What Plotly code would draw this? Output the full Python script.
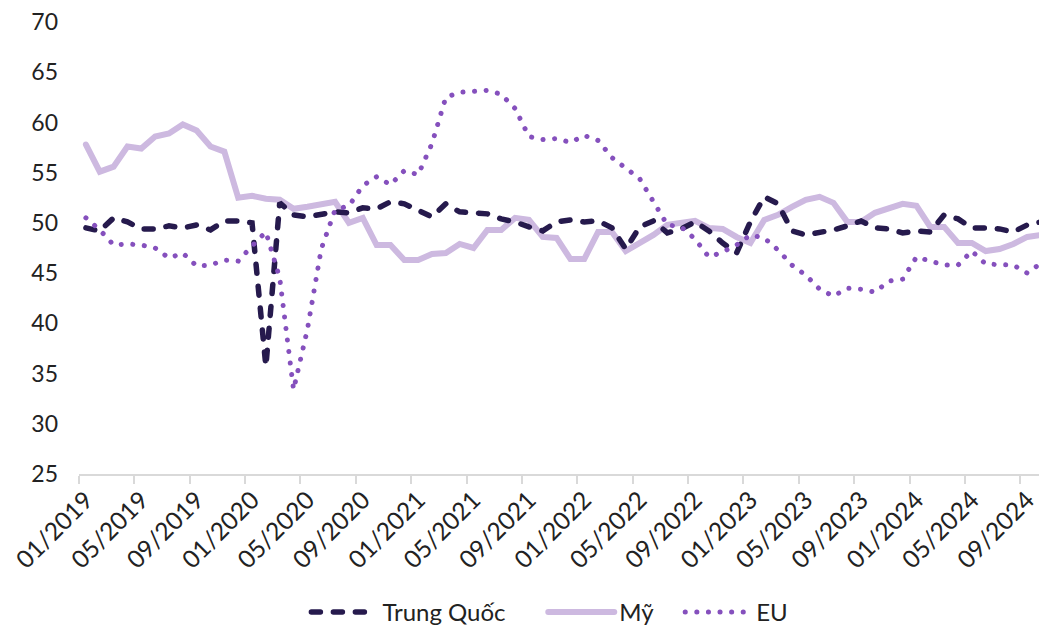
import plotly.graph_objects as go

months = [f"{m:02d}/{y}" for y in range(2019, 2025) for m in range(1, 13)][:70]

china = [49.5, 49.2, 50.5, 50.1, 49.4, 49.4, 49.7, 49.5, 49.8, 49.3, 50.2, 50.2,
         50.0, 35.7, 52.0, 50.8, 50.6, 50.9, 51.1, 51.0, 51.5, 51.4, 52.1, 51.9,
         51.3, 50.6, 51.9, 51.1, 51.0, 50.9, 50.4, 50.1, 49.6, 49.2, 50.1, 50.3,
         50.1, 50.2, 49.5, 47.4, 49.6, 50.2, 49.0, 49.4, 50.1, 49.2, 48.0, 47.0,
         50.1, 52.6, 51.9, 49.2, 48.8, 49.0, 49.3, 49.7, 50.2, 49.5, 49.4, 49.0,
         49.2, 49.1, 50.8, 50.4, 49.5, 49.5, 49.4, 49.1, 49.8, 50.1]

us = [57.8, 55.1, 55.6, 57.6, 57.4, 58.6, 58.9, 59.8, 59.2, 57.6, 57.1, 52.5,
      52.7, 52.4, 52.3, 51.4, 51.6, 51.9, 52.1, 50.0, 50.5, 47.8, 47.8, 46.3,
      46.3, 46.9, 47.0, 47.9, 47.5, 49.3, 49.3, 50.5, 50.3, 48.6, 48.5, 46.4,
      46.4, 49.1, 49.1, 47.2, 48.0, 48.8, 49.8, 50.0, 50.2, 49.5, 49.4, 48.6,
      48.0, 50.3, 50.8, 51.6, 52.3, 52.6, 52.0, 50.1, 50.1, 51.0, 51.5, 51.9,
      51.7, 49.6, 49.6, 48.0, 48.0, 47.2, 47.4, 47.9, 48.6, 48.8]

eu = [50.5, 49.3, 47.8, 47.9, 47.8, 47.5, 46.5, 47.0, 45.7, 45.8, 46.3, 46.2,
      47.7, 49.1, 44.5, 33.4, 39.4, 47.4, 51.3, 51.7, 53.7, 54.6, 53.8, 55.2,
      54.8, 57.9, 62.5, 63.0, 63.1, 63.2, 62.8, 61.4, 58.6, 58.3, 58.4, 58.0,
      58.7, 58.2, 56.5, 55.5, 54.4, 52.1, 49.8, 49.6, 48.4, 46.6, 47.1, 47.8,
      48.8, 48.5, 47.3, 45.8, 44.8, 43.4, 42.7, 43.5, 43.4, 43.1, 44.2, 44.4,
      46.6, 46.2, 45.8, 45.8, 47.2, 45.9, 45.8, 45.8, 45.0, 46.0]

names = ["Trung Quốc", "Mỹ", "EU"]
y_ticks = list(range(25, 75, 5))

x = list(range(len(months)))
label_idx = list(range(0, len(months), 4))

fig = go.Figure()
fig.add_trace(go.Scatter(x=x, y=us, name=names[1], mode="lines", legend="legend2",
                         line=dict(color="#cdb9e0", width=6)))
fig.add_trace(go.Scatter(x=x, y=china, name=names[0], mode="lines", legend="legend",
                         line=dict(color="#261a4d", width=5.5, dash="9px,13px")))
fig.add_trace(go.Scatter(x=x, y=eu, name=names[2], mode="lines", legend="legend3",
                         line=dict(color="#8550bd", width=5, dash="0.1px,11.5px")))

font = "Lato, 'Noto Sans', sans-serif"
L, PW = 78.5, 960.5
leg_common = dict(orientation="h", xref="paper", xanchor="left", yanchor="bottom",
                  y=-0.338, font=dict(size=24, color="#222222"), itemwidth=66,
                  bgcolor="rgba(0,0,0,0)")
fig.update_layout(
    width=1039, height=629,
    margin=dict(l=L, r=0, t=21.5, b=155.3),
    paper_bgcolor="white", plot_bgcolor="white",
    font=dict(family=font, size=23, color="#222222"),
    showlegend=True,
    legend=dict(x=(306 - L) / PW, **leg_common),
    legend2=dict(x=(543 - L) / PW, **leg_common),
    legend3=dict(x=(680 - L) / PW, **leg_common),
    xaxis=dict(
        range=[-0.5, 68.85], showgrid=False, zeroline=False, automargin=False,
        showline=True, linecolor="#d9d9d9", linewidth=2,
        tickmode="array", tickvals=[months.index(months[i]) for i in label_idx],
        ticktext=[months[i] for i in label_idx], ticks="",
        tickangle=-45, tickfont=dict(size=24.5, color="#222222"),
        ticklabeloverflow="allow",
        minor=dict(tickmode="array", tickvals=[i - 0.5 for i in label_idx],
                   ticks="outside", ticklen=8, tickwidth=2, tickcolor="#d9d9d9",
                   showgrid=False),
    ),
    yaxis=dict(
        range=[25, 70], showgrid=False, zeroline=False, showline=False, automargin=False,
        tickmode="array", tickvals=y_ticks, ticks="",
        ticklabelstandoff=20, tickfont=dict(size=23, color="#222222"),
    ),
)

post = ("document.body.style.margin='0';document.body.style.padding='0';"
        "document.querySelectorAll('path.js-line').forEach(function(p){"
        "p.style.strokeLinecap='round';});"
        "['legend','legend2','legend3'].forEach(function(c){"
        "document.querySelectorAll('g.'+c).forEach(function(g){"
        "var t=g.getAttribute('transform')||'';"
        "var m=t.match(/translate\\(([-\\d.e]+)[ ,]+([-\\d.e]+)\\)/);"
        "if(m){g.setAttribute('transform','translate('+m[1]+','+(parseFloat(m[2])+8)+')');}"
        "});});")
fig.write_html("out.html", post_script=post, config={"displayModeBar": False})
